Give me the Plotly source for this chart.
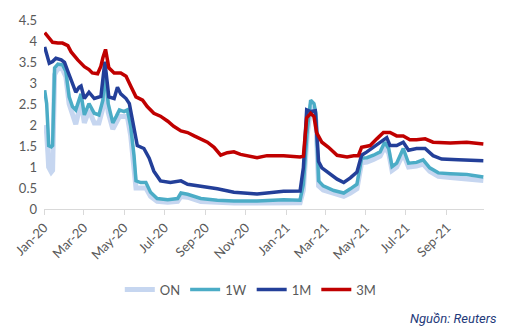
import plotly.graph_objects as go

# ---- data ----
dates_3m = ["2020-01-02","2020-01-07","2020-01-14","2020-01-22","2020-01-29","2020-02-06","2020-02-11","2020-02-21",
            "2020-03-02","2020-03-09","2020-03-14","2020-03-22","2020-03-27","2020-03-30","2020-04-03","2020-04-08",
            "2020-04-16","2020-04-26","2020-05-04","2020-05-11","2020-05-19","2020-05-29","2020-06-05","2020-06-15",
            "2020-06-25","2020-07-06","2020-07-15","2020-07-26","2020-08-05","2020-08-15","2020-08-25","2020-09-04",
            "2020-09-14","2020-09-24","2020-10-04","2020-10-14","2020-10-24","2020-11-03","2020-11-18","2020-12-03",
            "2020-12-28","2021-01-22","2021-01-27","2021-02-01","2021-02-07","2021-02-12","2021-02-16","2021-02-24",
            "2021-03-06","2021-03-19","2021-04-03","2021-04-13","2021-04-20","2021-04-25","2021-05-08","2021-05-18",
            "2021-05-28","2021-06-07","2021-06-17","2021-06-27","2021-07-07","2021-07-17","2021-07-30","2021-08-11",
            "2021-09-06","2021-10-01","2021-10-26"]
rate_3m = [4.20,4.09,3.97,3.95,3.95,3.89,3.74,3.55,
           3.39,3.32,3.24,3.22,3.40,3.60,3.80,3.36,
           3.24,3.24,3.16,2.93,2.67,2.59,2.44,2.28,
           2.21,2.09,1.97,1.86,1.82,1.74,1.67,1.59,
           1.47,1.28,1.34,1.36,1.30,1.27,1.22,1.27,
           1.27,1.24,1.26,2.17,2.28,2.20,1.82,1.59,
           1.47,1.28,1.24,1.27,1.27,1.47,1.51,1.67,
           1.82,1.82,1.74,1.74,1.65,1.65,1.67,1.59,
           1.57,1.59,1.55]

dates_1m = ["2020-01-02","2020-01-05","2020-01-09","2020-01-14","2020-01-19","2020-01-27","2020-02-01","2020-02-06",
            "2020-02-11","2020-02-18","2020-02-23","2020-02-26","2020-03-02","2020-03-09","2020-03-17","2020-03-27",
            "2020-04-02","2020-04-08","2020-04-16","2020-04-21","2020-04-26","2020-05-04","2020-05-09","2020-05-16",
            "2020-05-21","2020-05-31","2020-06-08","2020-06-15","2020-06-25","2020-07-10","2020-07-26","2020-08-05",
            "2020-08-25","2020-09-19","2020-10-14","2020-11-08","2020-11-18","2020-12-03","2020-12-28","2021-01-22",
            "2021-01-27","2021-02-01","2021-02-07","2021-02-14","2021-02-19","2021-02-24","2021-03-06","2021-03-19",
            "2021-03-29","2021-04-08","2021-04-18","2021-04-25","2021-05-03","2021-05-13","2021-05-23","2021-06-02",
            "2021-06-07","2021-06-17","2021-06-27","2021-07-05","2021-07-17","2021-07-30","2021-08-11","2021-08-24",
            "2021-09-18","2021-10-26"]
rate_1m = [3.86,3.70,3.47,3.51,3.59,3.55,3.49,3.28,
           3.09,2.78,2.90,2.93,2.63,2.78,2.63,2.68,
           3.51,2.67,2.63,2.90,2.74,2.63,2.51,1.97,
           1.51,1.44,1.21,0.90,0.67,0.63,0.67,0.59,
           0.55,0.48,0.40,0.38,0.36,0.38,0.42,0.43,
           0.98,2.36,2.32,2.34,1.13,0.98,0.86,0.71,
           0.63,0.74,0.88,1.28,1.36,1.47,1.59,1.70,
           1.51,1.51,1.59,1.40,1.44,1.44,1.27,1.19,
           1.17,1.15]

dates_short = ["2020-01-02","2020-01-05","2020-01-07","2020-01-08","2020-01-12","2020-01-14","2020-01-17","2020-01-22",
               "2020-01-29","2020-02-03","2020-02-08","2020-02-13","2020-02-18","2020-02-26","2020-03-02","2020-03-09",
               "2020-03-17","2020-03-24","2020-03-30","2020-04-02","2020-04-07","2020-04-14","2020-04-19","2020-04-24",
               "2020-05-01","2020-05-06","2020-05-11","2020-05-16","2020-05-19","2020-05-26","2020-06-03","2020-06-10",
               "2020-06-20","2020-07-06","2020-07-21","2020-07-26","2020-08-05","2020-08-25","2020-09-19","2020-10-14",
               "2020-11-18","2020-12-28","2021-01-22","2021-01-27","2021-02-02","2021-02-07","2021-02-12","2021-02-15",
               "2021-02-19","2021-02-26","2021-03-14","2021-03-29","2021-04-08","2021-04-18","2021-04-25","2021-05-03",
               "2021-05-13","2021-05-23","2021-05-30","2021-06-05","2021-06-10","2021-06-17","2021-06-27","2021-07-05",
               "2021-07-17","2021-07-27","2021-08-06","2021-08-19","2021-09-06","2021-10-01","2021-10-26"]
rate_1w = [2.83,2.51,1.90,1.51,1.48,1.51,3.36,3.45,
           3.43,3.28,2.67,2.44,2.36,2.74,2.24,2.51,
           2.28,2.24,2.59,3.36,2.51,2.05,2.20,2.36,
           2.32,2.36,1.97,1.28,0.67,0.63,0.63,0.40,
           0.25,0.22,0.25,0.38,0.35,0.25,0.21,0.19,
           0.19,0.22,0.21,0.59,1.90,2.59,2.51,2.28,
           0.67,0.55,0.44,0.38,0.48,0.59,1.21,1.22,
           1.28,1.36,1.59,1.44,1.01,1.09,1.44,1.09,
           1.11,1.17,0.98,0.86,0.84,0.82,0.76]
rate_on = [2.00,1.80,1.30,1.00,0.88,0.92,3.20,3.35,
           3.33,3.15,2.50,2.25,2.02,2.55,2.05,2.35,
           2.05,2.05,2.40,3.25,2.30,1.90,2.05,2.20,
           2.20,2.20,1.75,1.10,0.50,0.50,0.50,0.30,
           0.18,0.16,0.18,0.30,0.28,0.18,0.15,0.14,
           0.14,0.16,0.15,0.45,1.80,2.40,2.35,2.10,
           0.55,0.45,0.36,0.30,0.38,0.48,1.10,1.12,
           1.18,1.26,1.48,1.33,0.92,1.00,1.32,1.00,
           1.02,1.07,0.90,0.78,0.75,0.72,0.68]

x_tick_dates = ["2020-01-01","2020-03-01","2020-05-01","2020-07-01","2020-09-01","2020-11-01",
                "2021-01-01","2021-03-01","2021-05-01","2021-07-01","2021-09-01"]
x_tick_labels = ["Jan-20","Mar-20","May-20","Jul-20","Sep-20","Nov-20",
                 "Jan-21","Mar-21","May-21","Jul-21","Sep-21"]
y_tick_vals = [0, 0.5, 1, 1.5, 2, 2.5, 3, 3.5, 4, 4.5]
y_tick_labels = ["0", "0.5", "1", "1.5", "2", "2.5", "3", "3.5", "4", "4.5"]

FONT = "Lato, Open Sans, sans-serif"
GRAY = "#595959"

fig = go.Figure()
fig.add_trace(go.Scatter(x=dates_short, y=rate_on, name="ON", mode="lines",
                         line=dict(color="#c6d6f0", width=5)))
fig.add_trace(go.Scatter(x=dates_short, y=rate_1w, name="1W", mode="lines",
                         line=dict(color="#4bacc6", width=3.5)))
fig.add_trace(go.Scatter(x=dates_1m, y=rate_1m, name="1M", mode="lines",
                         line=dict(color="#233f99", width=3.5)))
fig.add_trace(go.Scatter(x=dates_3m, y=rate_3m, name="3M", mode="lines",
                         line=dict(color="#c00000", width=3.5)))

fig.update_layout(
    width=510, height=336,
    margin=dict(l=43, r=26, t=14, b=127),
    plot_bgcolor="white", paper_bgcolor="white",
    font=dict(family=FONT, size=13, color=GRAY),
    showlegend=True,
    legend=dict(orientation="h", x=0.47, xanchor="center", y=-0.426, yanchor="middle",
                font=dict(family=FONT, size=13, color=GRAY), itemwidth=30,
                tracegroupgap=0),
    xaxis=dict(type="date", range=["2020-01-01", "2021-10-27"],
               tickvals=x_tick_dates, ticktext=x_tick_labels, tickangle=-45,
               showgrid=False, zeroline=False,
               showline=True, linecolor="#d9d9d9", linewidth=1,
               ticks="outside", ticklen=5, tickcolor="#d9d9d9",
               tickfont=dict(family=FONT, size=13, color=GRAY)),
    yaxis=dict(range=[0, 4.5], tickvals=y_tick_vals, ticktext=y_tick_labels,
               showgrid=False, zeroline=False, showline=False,
               ticks="", ticklabelstandoff=6,
               tickfont=dict(family=FONT, size=13, color=GRAY)),
    annotations=[dict(text="<i>Nguồn: Reuters</i>", xref="paper", yref="paper",
                      x=1.034, y=-0.58, xanchor="right", yanchor="middle",
                      showarrow=False,
                      font=dict(family="Roboto, Open Sans, sans-serif", size=13, color="#1f3a7a"))],
)

fig.write_html("out.html")
